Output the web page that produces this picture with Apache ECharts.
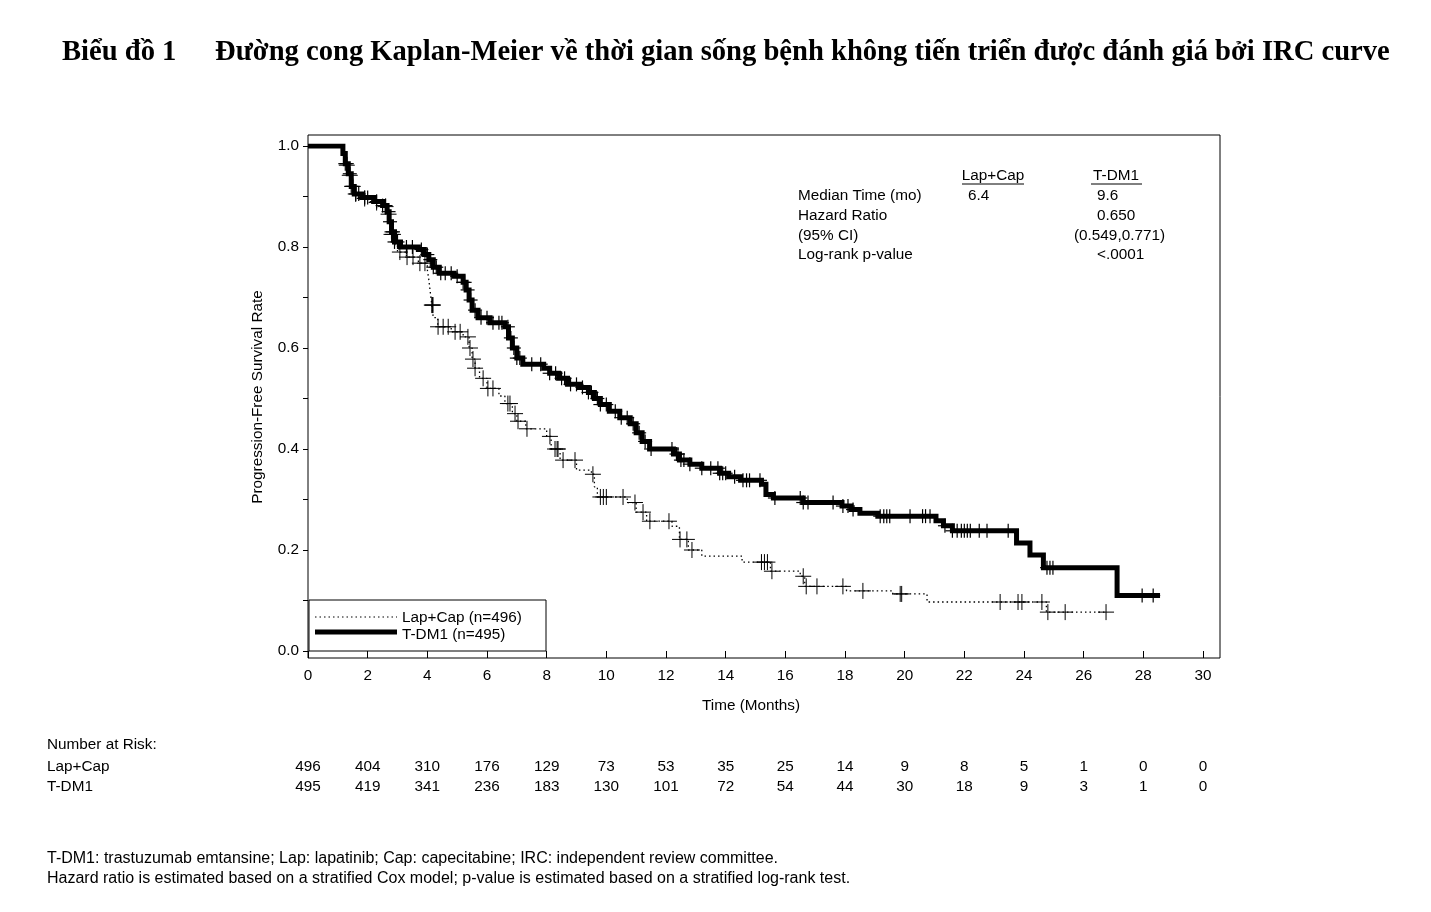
<!DOCTYPE html>
<html>
<head>
<meta charset="utf-8">
<script src="https://cdn.jsdelivr.net/npm/echarts@6/dist/echarts.min.js"></script>
<style>
html,body{margin:0;padding:0;background:#fff;}
#c{width:1431px;height:912px;}
</style>
</head>
<body>
<div id="c"></div>
<script>
// ---- Data ----
const titleLabel = 'Biểu đồ 1';
const titleText = 'Đường cong Kaplan-Meier về thời gian sống bệnh không tiến triển được đánh giá bởi IRC curve';
const xTicks = [0,2,4,6,8,10,12,14,16,18,20,22,24,26,28,30];

// Kaplan-Meier step events [time (months), survival]
const tdm1Steps = [
 [0,1.0],[1.17,0.985],[1.25,0.965],[1.35,0.945],[1.45,0.92],[1.55,0.905],[1.8,0.898],[2.2,0.89],[2.5,0.882],
 [2.65,0.87],[2.72,0.85],[2.8,0.83],[2.9,0.81],[3.1,0.80],[3.7,0.795],[3.9,0.785],[4.05,0.775],[4.2,0.76],
 [4.4,0.748],[4.9,0.742],[5.2,0.73],[5.3,0.715],[5.4,0.695],[5.5,0.675],[5.7,0.66],[6.1,0.65],[6.6,0.642],
 [6.72,0.62],[6.85,0.60],[7.0,0.58],[7.2,0.568],[7.9,0.56],[8.1,0.55],[8.4,0.54],[8.7,0.528],[9.1,0.522],
 [9.4,0.512],[9.6,0.50],[9.8,0.488],[10.1,0.475],[10.45,0.462],[10.8,0.45],[11.0,0.432],[11.2,0.415],
 [11.45,0.40],[12.25,0.39],[12.45,0.378],[12.8,0.37],[13.2,0.362],[13.8,0.352],[14.1,0.345],[14.5,0.338],
 [15.2,0.33],[15.35,0.31],[15.6,0.303],[16.6,0.294],[17.9,0.287],[18.2,0.28],[18.5,0.273],[19.1,0.267],
 [21.05,0.258],[21.3,0.248],[21.6,0.238],[23.75,0.214],[24.2,0.19],[24.65,0.165],[27.12,0.11],[28.56,0.11]
];
const lapcapSteps = [
 [0,1.0],[1.17,0.985],[1.25,0.962],[1.35,0.942],[1.45,0.92],[1.55,0.905],[1.8,0.896],[2.2,0.888],[2.5,0.88],
 [2.65,0.865],[2.72,0.845],[2.8,0.825],[2.9,0.805],[3.0,0.79],[3.3,0.78],[3.7,0.768],[4.0,0.755],[4.05,0.735],
 [4.1,0.71],[4.15,0.685],[4.2,0.66],[4.35,0.642],[4.8,0.632],[5.2,0.622],[5.4,0.60],[5.5,0.578],[5.6,0.56],
 [5.75,0.54],[6.0,0.52],[6.4,0.505],[6.6,0.49],[6.85,0.47],[7.0,0.455],[7.3,0.44],[8.0,0.425],[8.15,0.40],
 [8.45,0.378],[9.0,0.358],[9.5,0.35],[9.6,0.325],[9.7,0.305],[10.7,0.294],[11.0,0.275],[11.35,0.257],
 [12.2,0.247],[12.45,0.221],[12.75,0.20],[13.2,0.188],[14.55,0.176],[15.5,0.158],[16.5,0.148],[16.65,0.128],
 [18.05,0.119],[19.6,0.113],[20.75,0.097],[24.75,0.077],[26.8,0.077]
];

// Censoring times (months)
const tdm1Censor = [1.25,1.3,1.4,1.45,1.5,1.6,1.7,1.9,2.0,2.3,2.5,2.6,2.7,2.75,2.8,2.85,2.9,3.0,3.3,3.5,3.8,4.0,4.1,
 4.2,4.3,4.45,4.6,4.8,5.0,5.2,5.25,5.35,5.45,5.6,5.8,6.0,6.2,6.4,6.5,6.7,6.8,6.9,7.0,7.1,7.5,7.8,8.1,8.3,8.5,8.6,
 8.8,9.0,9.2,9.4,9.5,9.7,9.8,10.0,10.3,10.5,10.7,10.9,11.1,11.3,11.5,12.2,12.35,12.4,12.5,12.6,12.8,13.2,13.5,
 13.74,13.8,13.9,14.0,14.3,14.58,14.7,14.8,15.15,15.65,16.5,16.6,16.76,17.6,17.93,18.1,18.27,19.18,19.3,19.4,19.5,
 20.18,20.6,20.7,20.85,21.35,21.6,21.76,21.9,22.0,22.1,22.2,22.5,22.76,23.47,24.77,24.87,24.97,27.96,28.33];
const lapcapCensor = [1.3,1.4,1.5,1.6,1.9,2.3,2.6,2.7,2.8,2.85,3.08,3.32,3.52,3.75,3.92,4.15,4.17,4.19,4.36,4.53,
 4.7,4.93,5.1,5.36,5.43,5.53,5.6,5.87,6.03,6.2,6.7,6.77,6.94,7.04,7.34,8.11,8.28,8.35,8.38,8.55,8.95,9.55,9.8,
 9.9,10.0,10.56,10.96,11.23,11.46,12.1,12.47,12.7,12.87,15.2,15.3,15.4,15.55,16.6,16.7,17.06,17.93,18.6,19.85,
 19.9,23.2,23.8,23.93,24.6,24.8,25.38,26.75];

// Number at risk
const riskLapCap = [496,404,310,176,129,73,53,35,25,14,9,8,5,1,0,0];
const riskTDM1 = [495,419,341,236,183,130,101,72,54,44,30,18,9,3,1,0];

// Summary statistics
const statsRows = [
 ['Median Time (mo)', '6.4', '9.6'],
 ['Hazard Ratio', '', '0.650'],
 ['(95% CI)', '', '(0.549,0.771)'],
 ['Log-rank p-value', '', '<.0001']
];
const footnotes = [
 'T-DM1: trastuzumab emtansine; Lap: lapatinib; Cap: capecitabine; IRC: independent review committee.',
 'Hazard ratio is estimated based on a stratified Cox model; p-value is estimated based on a stratified log-rank test.'
];

// ---- helpers ----
function stepAt(steps, t){
  let v = steps[0][1];
  for (const s of steps){ if (s[0] <= t) v = s[1]; else break; }
  return v;
}
const tdm1CensorPts = tdm1Censor.map(t => [t, stepAt(tdm1Steps, t)]);
const lapcapCensorPts = lapcapCensor.map(t => [t, stepAt(lapcapSteps, t)]);

function crossRender(half, lw){
  return function(params, api){
    const p = api.coord([api.value(0), api.value(1)]);
    return {type:'group', children:[
      {type:'line', shape:{x1:p[0]-half,y1:p[1],x2:p[0]+half,y2:p[1]}, style:{stroke:'#000',lineWidth:lw}},
      {type:'line', shape:{x1:p[0],y1:p[1]-half,x2:p[0],y2:p[1]+half}, style:{stroke:'#000',lineWidth:lw}}
    ]};
  };
}

const FONT = '"Liberation Sans", Arial, sans-serif';
const FS = 15.3;
const F = FS + 'px ' + FONT;
const chart = echarts.init(document.getElementById('c'), null, {renderer:'canvas'});
chart.setOption({
  backgroundColor:'#fff',
  animation:false,
  grid:{left:308, right:228, top:146, bottom:261},
  xAxis:{type:'value', min:0, max:30, interval:2, offset:7,
    axisLine:{show:false},
    axisTick:{show:true, length:7, lineStyle:{color:'#000'}},
    axisLabel:{color:'#000', fontSize:FS, fontFamily:FONT, margin:10},
    splitLine:{show:false}},
  yAxis:{type:'value', min:0, max:1, interval:0.1,
    axisLine:{show:false},
    axisTick:{show:true, length:5, lineStyle:{color:'#000'}},
    axisLabel:{color:'#000', fontSize:FS, fontFamily:FONT, margin:9,
      formatter:v => (Math.round(v*10)%2===0 ? v.toFixed(1) : '')},
    splitLine:{show:false}},
  series:[
    {name:'Lap+Cap', type:'line', step:'end', data:lapcapSteps, showSymbol:false, z:3,
     lineStyle:{color:'#000', width:1.3, type:[1.5,3]}},
    {name:'T-DM1', type:'line', step:'end', data:tdm1Steps, showSymbol:false, z:4,
     lineStyle:{color:'#000', width:5, join:'miter'}},
    {type:'custom', data:lapcapCensorPts, renderItem:crossRender(8,1), z:5},
    {type:'custom', data:tdm1CensorPts, renderItem:crossRender(7,1.2), z:6}
  ]
});

// ---- text & decoration ----
const g = [];
function txt(x, y, s, opt){
  g.push(Object.assign({type:'text', x:x, y:y, silent:true,
    style:Object.assign({text:s, fill:'#000', font:F, textAlign:'left', textVerticalAlign:'middle'}, opt||{})}));
}
const TF = 'bold 28.6px "Liberation Serif", "Times New Roman", serif';
// Title
txt(62, 53, titleLabel, {font:TF});
txt(215, 53, titleText, {font:TF});
// Frame
g.push({type:'rect', shape:{x:308, y:135, width:912, height:523}, style:{fill:'none', stroke:'#000', lineWidth:1}, silent:true});
// Axis names
txt(751, 706, 'Time (Months)', {textAlign:'center'});
g.push({type:'text', x:258, y:397, rotation:Math.PI/2, silent:true,
  style:{text:'Progression-Free Survival Rate', fill:'#000', font:F, textAlign:'center', textVerticalAlign:'middle'}});
// Stats table
txt(993, 176, 'Lap+Cap', {textAlign:'center'});
txt(1116, 176, 'T-DM1', {textAlign:'center'});
g.push({type:'line', shape:{x1:962,y1:184,x2:1024,y2:184}, style:{stroke:'#000',lineWidth:1}, silent:true});
g.push({type:'line', shape:{x1:1091,y1:184,x2:1142,y2:184}, style:{stroke:'#000',lineWidth:1}, silent:true});
statsRows.forEach((r,i) => {
  const y = 196 + i*19.7;
  txt(798, y, r[0]);
  if (r[1]) txt(968, y, r[1]);
  if (r[0] === '(95% CI)') txt(1165, y, r[2], {textAlign:'right'});
  else txt(1097, y, r[2]);
});
// Legend box
g.push({type:'rect', shape:{x:309, y:600, width:237, height:51}, style:{fill:'#fff', stroke:'#000', lineWidth:1}, silent:true, z:10});
g.push({type:'line', shape:{x1:315,y1:617,x2:397,y2:617}, style:{stroke:'#000',lineWidth:1.2,lineDash:[1.5,3]}, silent:true, z:11});
g.push({type:'line', shape:{x1:315,y1:632,x2:397,y2:632}, style:{stroke:'#000',lineWidth:5}, silent:true, z:11});
g.push({type:'text', x:402, y:618, z:11, silent:true, style:{text:'Lap+Cap (n=496)', fill:'#000', font:F, textVerticalAlign:'middle'}});
g.push({type:'text', x:402, y:635, z:11, silent:true, style:{text:'T-DM1 (n=495)', fill:'#000', font:F, textVerticalAlign:'middle'}});
// Number at risk
txt(47, 745, 'Number at Risk:');
txt(47, 767, 'Lap+Cap');
txt(47, 787, 'T-DM1');
xTicks.forEach((t,i) => {
  const px = chart.convertToPixel({xAxisIndex:0}, t);
  txt(px, 767, String(riskLapCap[i]), {textAlign:'center'});
  txt(px, 787, String(riskTDM1[i]), {textAlign:'center'});
});
// Footnotes
txt(47, 859, footnotes[0], {font:'16px ' + FONT});
txt(47, 879, footnotes[1], {font:'16px ' + FONT});

chart.setOption({graphic:{elements:g}});
</script>
</body>
</html>
